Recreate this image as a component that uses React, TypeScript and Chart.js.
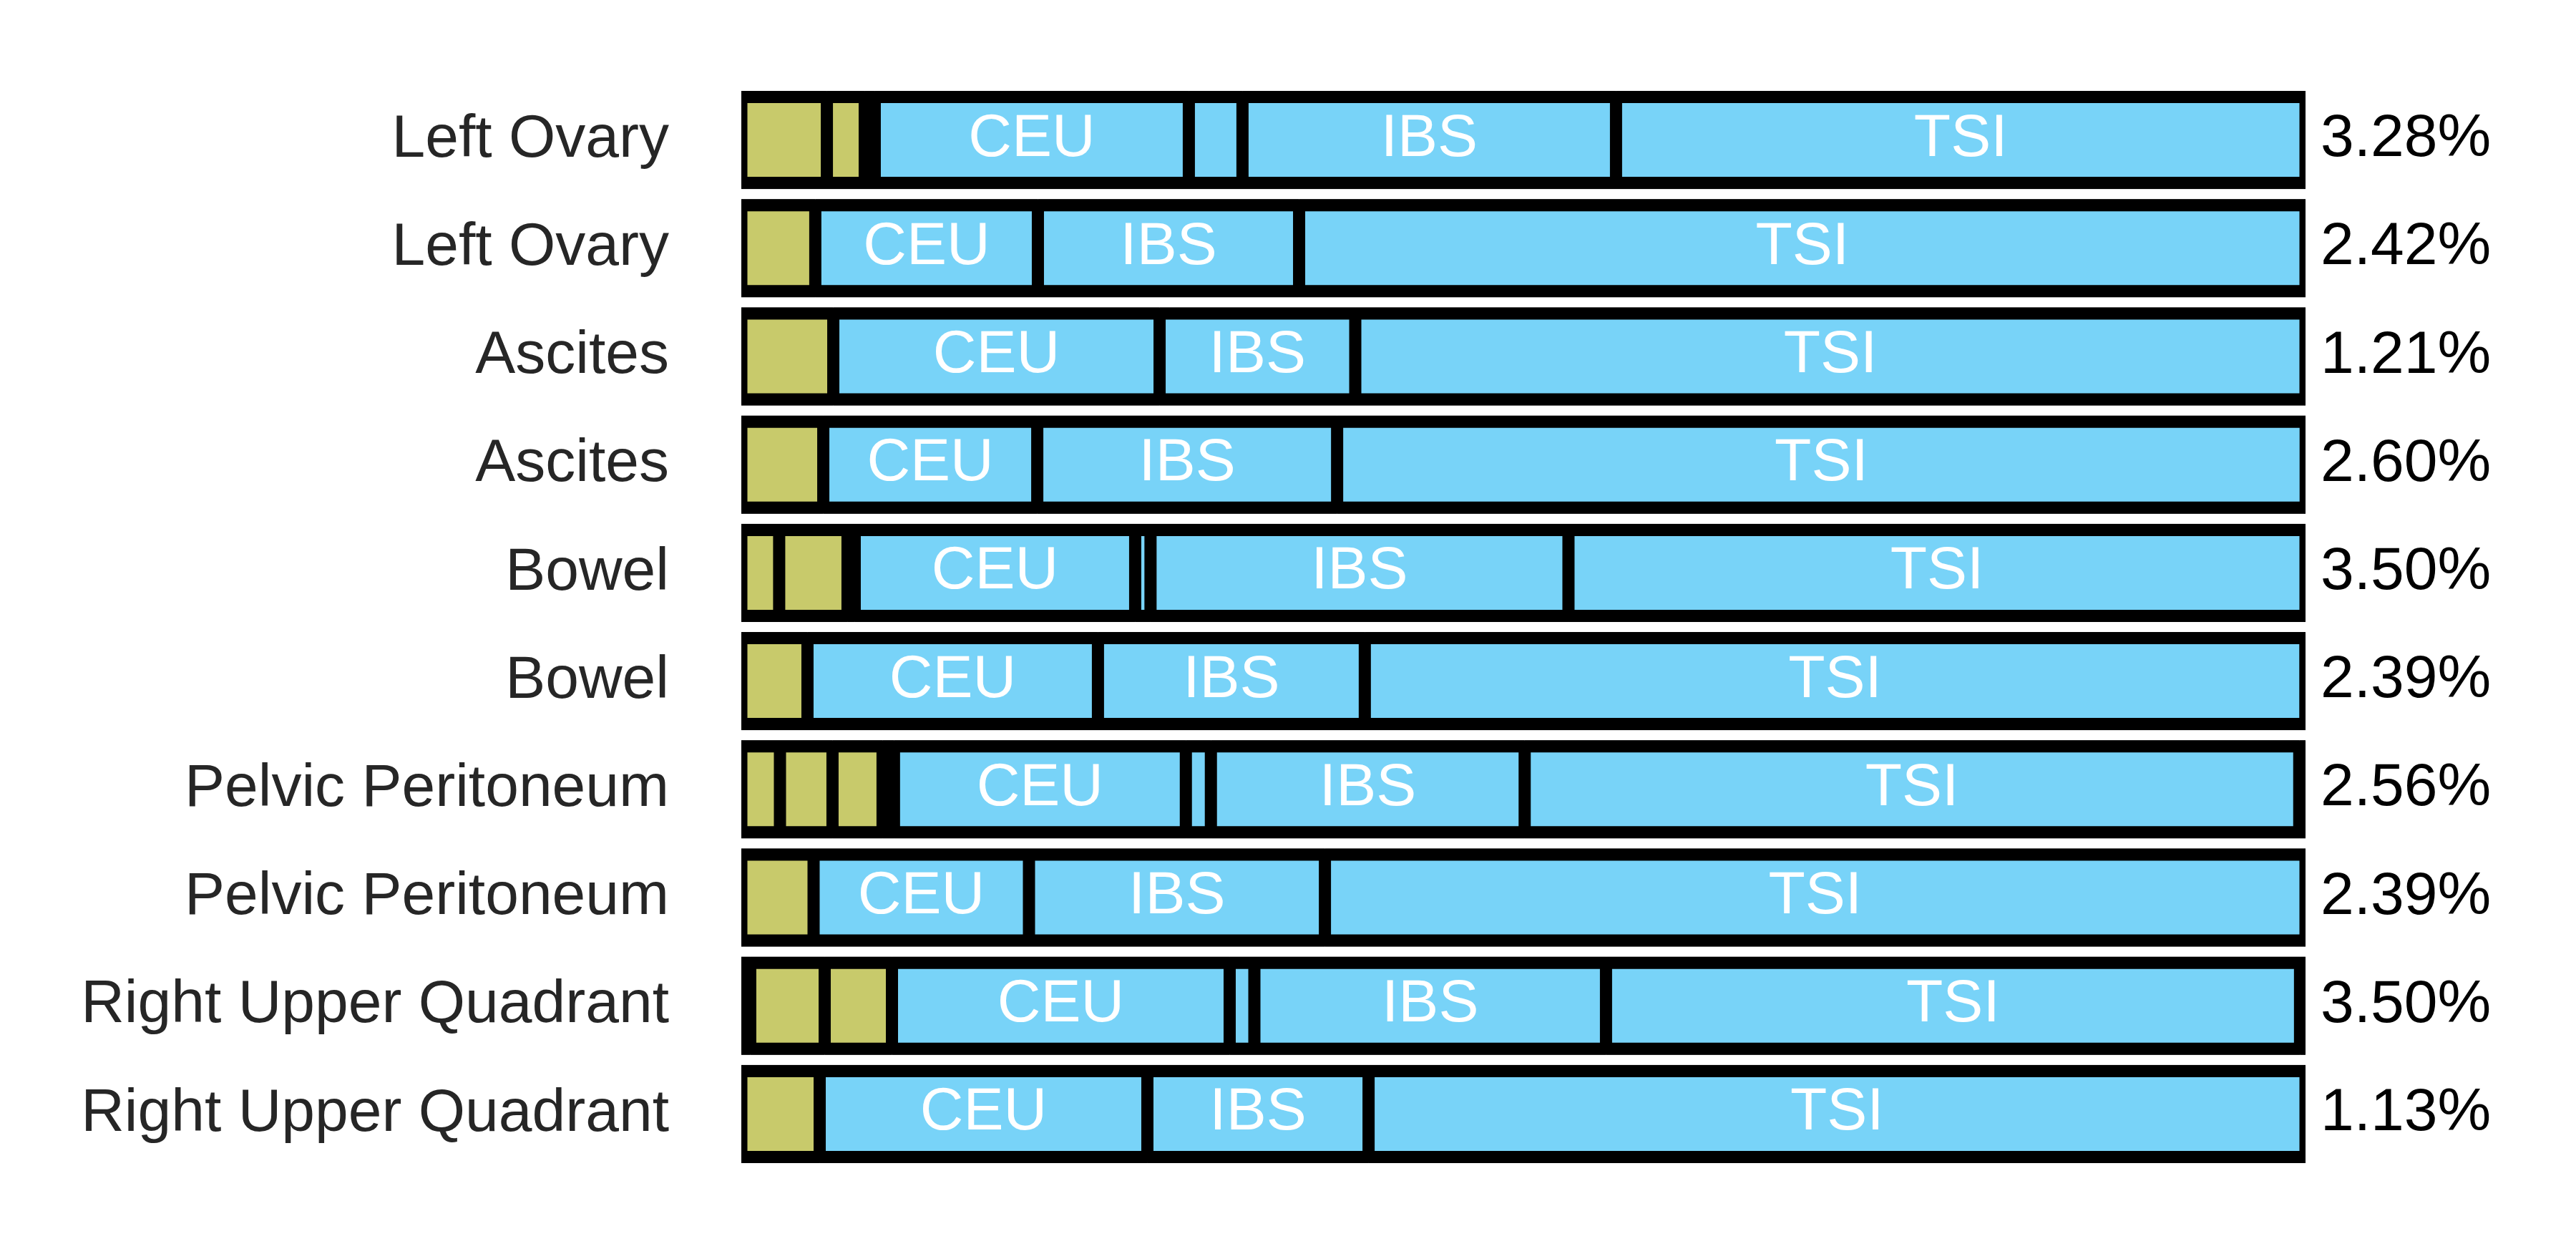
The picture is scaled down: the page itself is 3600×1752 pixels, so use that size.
import React, { useEffect, useRef } from 'react';
import { Chart, registerables } from 'chart.js';

Chart.register(...registerables);

const rowLabels = [
  'Left Ovary',
  'Left Ovary',
  'Ascites',
  'Ascites',
  'Bowel',
  'Bowel',
  'Pelvic Peritoneum',
  'Pelvic Peritoneum',
  'Right Upper Quadrant',
  'Right Upper Quadrant',
];

const rightLabels = ['3.28%', '2.42%', '1.21%', '2.60%', '3.50%', '2.39%', '2.56%', '2.39%', '3.50%', '1.13%'];

// segment proportions (% of each bar), left to right
const olive1 = [5.47, 4.73, 5.88, 5.24, 2.42, 4.23, 2.47, 4.62, 0.57, 5.01];
const olive2 = [2.42, 0, 0, 0, 4.37, 0, 3.36, 0, 4.76, 0];
const olive3 = [0.64, 0, 0, 0, 0.46, 0, 3.2, 0, 4.3, 0];
const olive4 = [0, 0, 0, 0, 0, 0, 0.73, 0, 0, 0];
const ceu = [20.08, 14.23, 20.86, 13.68, 17.93, 18.57, 18.66, 13.77, 21.59, 20.95];
const otherBlue = [3.43, 0, 0, 0, 0.98, 0, 1.6, 0, 1.58, 0];
const ibs = [23.88, 16.7, 12.51, 19.17, 26.72, 17.06, 20.06, 18.92, 22.48, 14.14];
const tsi = [44.08, 64.34, 60.75, 61.92, 47.12, 60.13, 49.52, 62.69, 44.37, 59.9];
const tail = [0, 0, 0, 0, 0, 0, 0.39, 0, 0.34, 0];

const OLIVE = '#C8CA6B';
const BLUE = '#78D3F8';
const FONT = "'Liberation Sans', Arial, sans-serif";

export default function App() {
  const ref = useRef<HTMLCanvasElement>(null);

  useEffect(() => {
    if (!ref.current) return;

    // solid black underlay behind every bar so that anti-aliased seams between
    // neighbouring segment borders stay black
    const underlayPlugin = {
      id: 'barUnderlay',
      beforeDatasetsDraw(chart: any) {
        const ctx = chart.ctx;
        const meta = chart.getDatasetMeta(0);
        const area = chart.chartArea;
        ctx.save();
        ctx.fillStyle = '#000000';
        meta.data.forEach((el: any) => {
          const { y, height } = el.getProps(['y', 'height'], true);
          ctx.fillRect(area.left, y - height / 2, area.right - area.left, height);
        });
        ctx.restore();
      },
    };

    const labelPlugin = {
      id: 'segmentLabels',
      afterDatasetsDraw(chart: any) {
        const ctx = chart.ctx;
        ctx.save();
        ctx.font = `84px ${FONT}`;
        ctx.textBaseline = 'alphabetic';
        // in-bar labels
        ctx.fillStyle = '#ffffff';
        ctx.textAlign = 'center';
        chart.data.datasets.forEach((ds: any, di: number) => {
          if (!ds.showText) return;
          const meta = chart.getDatasetMeta(di);
          meta.data.forEach((el: any) => {
            const { x, base, y } = el.getProps(['x', 'base', 'y'], true);
            ctx.fillText(ds.label, (x + base) / 2, y + 22);
          });
        });
        // right-side percentages
        const yScale = chart.scales.y;
        ctx.fillStyle = '#000000';
        ctx.textAlign = 'left';
        rightLabels.forEach((t, i) => {
          ctx.fillText(t, chart.chartArea.right + 21, yScale.getPixelForValue(i) + 22.5);
        });
        ctx.restore();
      },
    };

    const mk = (label: string, data: number[], color: string, showText: boolean) => ({
      label,
      data,
      backgroundColor: color,
      borderColor: '#000000',
      borderWidth: { top: 17, bottom: 17, left: 8.5, right: 8.5 },
      borderSkipped: false,
      inflateAmount: 0,
      showText,
    });

    const chart = new Chart(ref.current, {
      type: 'bar',
      data: {
        labels: rowLabels,
        datasets: [
          mk('o1', olive1, OLIVE, false),
          mk('o2', olive2, OLIVE, false),
          mk('o3', olive3, OLIVE, false),
          mk('o4', olive4, OLIVE, false),
          mk('CEU', ceu, BLUE, true),
          mk('other', otherBlue, BLUE, false),
          mk('IBS', ibs, BLUE, true),
          mk('TSI', tsi, BLUE, true),
          mk('tail', tail, BLUE, false),
        ] as any,
      },
      options: {
        indexAxis: 'y',
        animation: false,
        responsive: false,
        maintainAspectRatio: false,
        devicePixelRatio: 1,
        layout: { padding: { top: 120, bottom: 120, left: 0, right: 378 } },
        datasets: { bar: { categoryPercentage: 1, barPercentage: 0.906 } },
        plugins: { legend: { display: false }, tooltip: { enabled: false } },
        scales: {
          x: { stacked: true, min: 0, max: 100, display: false },
          y: {
            stacked: true,
            grid: { display: false, drawTicks: false },
            border: { display: false },
            ticks: {
              font: { family: FONT, size: 84 },
              color: '#262626',
              padding: 101,
              autoSkip: false,
            },
            afterFit: (s: any) => {
              s.width = 1036;
              s.paddingTop = 0;
              s.paddingBottom = 0;
            },
          },
        },
      } as any,
      plugins: [underlayPlugin, labelPlugin],
    });

    return () => chart.destroy();
  }, []);

  return (
    <div style={{ position: 'absolute', left: 0, top: 0, width: 3600, height: 1752, background: '#ffffff' }}>
      <canvas ref={ref} width={3600} height={1752} style={{ display: 'block', width: 3600, height: 1752 }} />
    </div>
  );
}
